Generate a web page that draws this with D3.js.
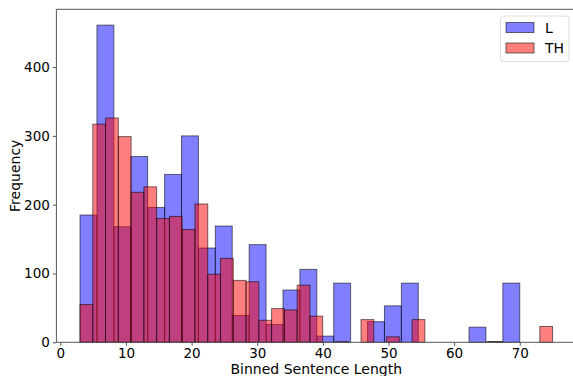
<!DOCTYPE html>
<html>
<head>
<meta charset="utf-8">
<script src="https://cdn.jsdelivr.net/npm/d3@7"></script>
<style>
  body { margin: 0; background: #fff; }
  svg { display: block; font-family: "DejaVu Sans", sans-serif; }
</style>
</head>
<body>
<svg id="chart" width="573" height="376"></svg>
<script>
// histogram counts
const seriesNames = ['L', 'TH'];
const lRange = [3, 70];   // 26 equal bins
const lCounts = [185, 461, 168, 270, 196, 244, 300, 137, 169, 39, 142, 26, 76,
                 106, 9, 86, 0, 30, 53, 86, 0, 0, 0, 22, 1, 86];
const thRange = [3, 75];  // 37 equal bins
const thCounts = [55, 317, 326, 299, 218, 226, 180, 183, 164, 201, 99, 122, 90,
                  88, 32, 49, 47, 83, 38, 0, 1, 0, 33, 0, 8, 0, 33, 0, 0, 0,
                  0, 0, 1, 0, 0, 0, 23];
const xTicks = [0, 10, 20, 30, 40, 50, 60, 70];
const yTicks = [0, 100, 200, 300, 400];

function toBins(range, counts) {
  const w = (range[1] - range[0]) / counts.length;
  return counts.map((c, i) => ({x0: range[0] + i * w, x1: range[0] + (i + 1) * w, n: c}));
}

const svg = d3.select('#chart');
const margin = {left: 56.4, top: 9.3, right: 576.2, bottom: 342.3};

const x = d3.scaleLinear().domain([-0.6, 78.6]).range([margin.left, margin.right]);
const y = d3.scaleLinear().domain([0, 484]).range([margin.bottom, margin.top]);

const series = [
  {name: seriesNames[0], bins: toBins(lRange, lCounts), color: 'rgba(0,0,255,0.5)'},
  {name: seriesNames[1], bins: toBins(thRange, thCounts), color: 'rgba(255,0,0,0.5)'}
];

series.forEach(s => {
  svg.append('g')
    .selectAll('rect')
    .data(s.bins.filter(b => b.n > 0))
    .enter()
    .append('rect')
    .attr('x', d => x(d.x0))
    .attr('y', d => y(d.n))
    .attr('width', d => x(d.x1) - x(d.x0))
    .attr('height', d => y(0) - y(d.n))
    .attr('fill', s.color)
    .attr('stroke', 'rgba(0,0,0,0.55)')
    .attr('stroke-width', 1);
});

// axes
const xAxis = svg.append('g')
  .attr('transform', `translate(0,${margin.bottom})`)
  .call(d3.axisBottom(x).tickValues(xTicks).tickSize(3.5).tickPadding(3));
const yAxis = svg.append('g')
  .attr('transform', `translate(${margin.left},0)`)
  .call(d3.axisLeft(y).tickValues(yTicks).tickSize(3.5).tickPadding(3));

[xAxis, yAxis].forEach(a => {
  a.select('.domain').remove();
  a.selectAll('line').attr('stroke', '#555');
  a.selectAll('text').attr('fill', '#000').style('font-size', '13.5px').style('font-family', '"DejaVu Sans", sans-serif');
});

// spines
svg.append('line').attr('x1', margin.left).attr('x2', margin.left)
  .attr('y1', margin.top).attr('y2', margin.bottom).attr('stroke', '#555');
svg.append('line').attr('x1', margin.left).attr('x2', margin.right)
  .attr('y1', margin.bottom).attr('y2', margin.bottom).attr('stroke', '#555');
svg.append('line').attr('x1', margin.left).attr('x2', margin.right)
  .attr('y1', margin.top).attr('y2', margin.top).attr('stroke', '#555');

// axis labels
svg.append('text')
  .attr('x', (margin.left + margin.right) / 2)
  .attr('y', 374)
  .attr('text-anchor', 'middle')
  .style('font-size', '14px')
  .text('Binned Sentence Length');

svg.append('text')
  .attr('transform', `translate(20,${(margin.top + margin.bottom) / 2}) rotate(-90)`)
  .attr('text-anchor', 'middle')
  .style('font-size', '14px')
  .text('Frequency');

// legend
const legend = svg.append('g');
legend.append('rect')
  .attr('x', 500.5).attr('y', 16).attr('width', 68.5).attr('height', 45.5)
  .attr('rx', 3).attr('fill', 'rgba(255,255,255,0.8)')
  .attr('stroke', '#ddd');
series.forEach((s, i) => {
  legend.append('rect')
    .attr('x', 506).attr('y', 22.5 + i * 20.5)
    .attr('width', 28).attr('height', 10)
    .attr('fill', s.color)
    .attr('stroke', 'rgba(0,0,0,0.55)');
  legend.append('text')
    .attr('x', 545).attr('y', 32.5 + i * 20.5)
    .style('font-size', '14px')
    .text(s.name);
});
</script>
</body>
</html>
